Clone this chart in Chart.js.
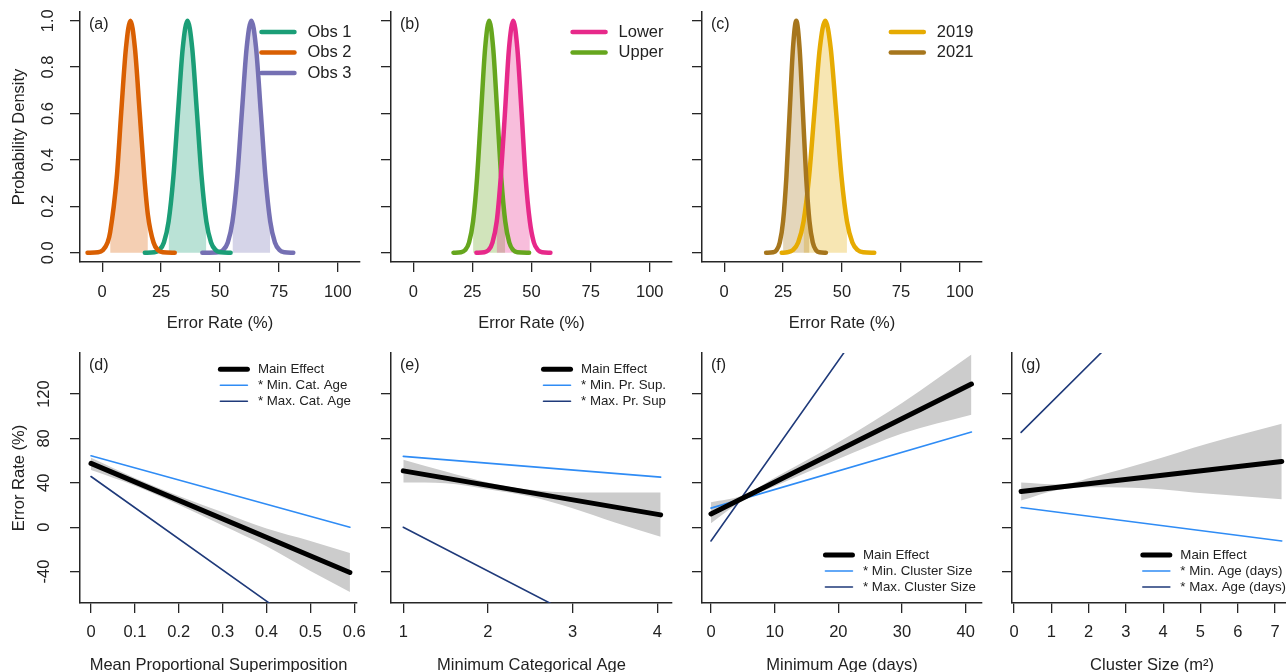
<!DOCTYPE html>
<html>
<head>
<meta charset="utf-8">
<script src="https://cdn.jsdelivr.net/npm/chart.js@4.4.1/dist/chart.umd.min.js"></script>
<style>
  html, body { margin: 0; padding: 0; background: #fff; width: 1286px; height: 672px; overflow: hidden; }
  canvas { position: absolute; }
</style>
</head>
<body>
<canvas id="pa"></canvas>
<canvas id="pb"></canvas>
<canvas id="pc"></canvas>
<canvas id="pd"></canvas>
<canvas id="pe"></canvas>
<canvas id="pf"></canvas>
<canvas id="pg"></canvas>
<script>
// --- DATA: top row, posterior densities ---
const topXTicks = [0, 25, 50, 75, 100];
const topYTicks = [0, 0.2, 0.4, 0.6, 0.8, 1.0];

const obs1X = [18.1, 22.2, 24.2, 26.2, 28.2, 30.2, 32.2, 34.2, 36.2, 38.2, 40.2, 42.2, 44.2, 46.2, 48.2, 50.2, 54.5];
const obs1Y = [0, 0.002, 0.011, 0.044, 0.135, 0.325, 0.607, 0.882, 1, 0.882, 0.607, 0.325, 0.135, 0.044, 0.011, 0.002, 0];
const obs1CI = [28.2, 44.2];
const obs2X = [-6.2, -1.7, 0.3, 2.3, 3.4, 6.2, 8.1, 10.1, 12, 13.9, 15.9, 17.9, 19.4, 21.8, 23.7, 25.7, 30.8];
const obs2Y = [0, 0.002, 0.011, 0.044, 0.089, 0.325, 0.607, 0.882, 1, 0.882, 0.607, 0.325, 0.164, 0.044, 0.011, 0.002, 0];
const obs2CI = [3.4, 19.4];
const obs3X = [42.5, 49.3, 51.3, 53.3, 55.3, 57.3, 59.3, 61.3, 63.3, 65.3, 67.3, 69.3, 71.3, 73.3, 75.3, 77.3, 81.1];
const obs3Y = [0, 0.002, 0.011, 0.044, 0.135, 0.325, 0.607, 0.882, 1, 0.882, 0.607, 0.325, 0.135, 0.044, 0.011, 0.002, 0];
const obs3CI = [55.3, 71.3];

const lowerX = [26.7, 30.1, 31.8, 33.5, 35.3, 37.0, 38.8, 40.5, 42.3, 44.0, 45.8, 47.5, 49.3, 51.0, 52.8, 54.5, 58.0];
const lowerY = [0, 0.002, 0.011, 0.044, 0.135, 0.325, 0.607, 0.882, 1, 0.882, 0.607, 0.325, 0.135, 0.044, 0.011, 0.002, 0];
const lowerCI = [35.3, 49.3];
const upperX = [17.0, 20.2, 21.9, 23.6, 25.3, 27.0, 28.7, 30.4, 32.1, 33.8, 35.5, 37.2, 38.9, 40.6, 42.3, 44.0, 49.0];
const upperY = [0, 0.002, 0.011, 0.044, 0.135, 0.325, 0.607, 0.882, 1, 0.882, 0.607, 0.325, 0.135, 0.044, 0.011, 0.002, 0];
const upperCI = [25.3, 38.9];

const y2019X = [24.4, 26.8, 29.1, 31.4, 33.7, 36.0, 38.3, 40.6, 42.9, 45.2, 47.5, 49.8, 52.1, 54.4, 56.7, 59.0, 63.7];
const y2019Y = [0, 0.002, 0.011, 0.044, 0.135, 0.325, 0.607, 0.882, 1, 0.882, 0.607, 0.325, 0.135, 0.044, 0.011, 0.002, 0];
const y2019CI = [33.7, 52.1];
const y2021X = [17.8, 20.8, 22.2, 23.6, 25.0, 26.4, 27.8, 29.2, 30.6, 32.0, 33.4, 34.8, 36.2, 37.6, 39.0, 40.4, 43.2];
const y2021Y = [0, 0.002, 0.011, 0.044, 0.135, 0.325, 0.607, 0.882, 1, 0.882, 0.607, 0.325, 0.135, 0.044, 0.011, 0.002, 0];
const y2021CI = [25.0, 36.2];

// --- DATA: bottom row, model effects ---
const botYTicks = [-40, 0, 40, 80, 120];

const dXTicks = [0, 0.1, 0.2, 0.3, 0.4, 0.5, 0.6];
const dLineX = [0, 0.59];
const dMain = [57.5, -40.8];
const dMinCat = [64.4, 0.0];
const dMaxCat = [45.7, -120.0];
const dBandX = [0, 0.1, 0.2, 0.3, 0.4, 0.5, 0.59];
const dBandHi = [62.5, 44.3, 28.2, 13.5, -1.2, -12.4, -23.3];
const dBandLo = [51.5, 37.3, 20.2, 1.5, -17.2, -39.4, -58.3];

const eXTicks = [1, 2, 3, 4];
const eLineX = [1, 4.04];
const eMain = [50.8, 11.1];
const eMinSup = [63.8, 45.1];
const eMaxSup = [0.0, -120.0];
const eBandX = [1.0, 1.5, 2.0, 2.5, 3.0, 3.5, 4.04];
const eBandHi = [60.8, 50.2, 40.3, 33.7, 31.3, 31.3, 31.3];
const eBandLo = [40.3, 39.7, 34.3, 27.6, 17.1, 4.2, -8.5];

const fXTicks = [0, 10, 20, 30, 40];
const fLineX = [0, 40.9];
const fMain = [12.0, 129.0];
const fMinClus = [17.2, 85.8];
const fMaxClus = [-12.4, 320.0];
const fBandX = [0, 5, 10, 20, 30, 40.9];
const fBandHi = [22.5, 28.5, 44.5, 76.5, 112.0, 155.6];
const fBandLo = [3.5, 24.3, 37.0, 61.5, 84.5, 101.4];

const gXTicks = [0, 1, 2, 3, 4, 5, 6, 7];
const gLineX = [0.19, 7.18];
const gMain = [32.2, 59.3];
const gMinAge = [17.7, -12.4];
const gMaxAge = [85.5, 319.0];
const gBandX = [0.19, 1.2, 2.2, 3.5, 5.25, 7.18];
const gBandHi = [40.3, 38.5, 46.0, 58.0, 76.0, 93.3];
const gBandLo = [24.0, 33.7, 36.0, 35.2, 30.1, 25.3];

// --- STYLE ---
const FONT = "'Liberation Sans', Arial, Helvetica, sans-serif";
const INK = '#222222';
const AXIS = '#262626';
const BAND = '#cccccc';
const MIN_BLUE = '#2f8cf5';
const MAX_NAVY = '#1f3a7a';

Chart.defaults.font.family = FONT;
Chart.defaults.font.size = 16.5;
Chart.defaults.color = INK;
Chart.defaults.animation = false;

const pts = (xs, ys) => xs.map((x, i) => ({ x: x, y: ys[i] }));

function alpha(hex, a) {
  const n = parseInt(hex.slice(1), 16);
  return `rgba(${(n >> 16) & 255}, ${(n >> 8) & 255}, ${n & 255}, ${a})`;
}

function curve(label, xs, ys, color) {
  return { label, data: pts(xs, ys), showLine: true, borderColor: color, borderWidth: 4.5,
    pointRadius: 0, fill: false, cubicInterpolationMode: 'monotone',
    borderCapStyle: 'round', borderJoinStyle: 'round' };
}

function shade(xs, ys, ci, color) {
  const d = pts(xs, ys).filter(p => p.x >= ci[0] && p.x <= ci[1]);
  return { label: '', data: d, showLine: true, borderWidth: 0, borderColor: 'rgba(0,0,0,0)',
    pointRadius: 0, fill: 'origin', backgroundColor: alpha(color, 0.3), cubicInterpolationMode: 'monotone' };
}

function trend(label, xs, ys, color, w) {
  return { label, data: pts(xs, ys), showLine: true, borderColor: color, borderWidth: w,
    pointRadius: 0, fill: false, borderCapStyle: 'round' };
}

function band(xs, hi, lo) {
  return [
    { label: '', data: pts(xs, hi), showLine: true, borderWidth: 0, borderColor: 'rgba(0,0,0,0)',
      pointRadius: 0, fill: '+1', backgroundColor: BAND, cubicInterpolationMode: 'monotone' },
    { label: '', data: pts(xs, lo), showLine: true, borderWidth: 0, borderColor: 'rgba(0,0,0,0)',
      pointRadius: 0, fill: false, cubicInterpolationMode: 'monotone' }
  ];
}

// panel tag + R-like legend drawn inside the plot area
const panelDecor = {
  id: 'panelDecor',
  afterDatasetsDraw(chart, args, o) {
    const { ctx, chartArea: a } = chart;
    ctx.save();
    ctx.fillStyle = INK;
    ctx.textBaseline = 'middle';
    ctx.textAlign = 'left';
    ctx.font = `16px ${FONT}`;
    ctx.fillText(o.tag, a.left + 9, a.top + 13);

    const lg = o.legend;
    ctx.font = `${lg.size}px ${FONT}`;
    const sets = lg.items.map(i => chart.data.datasets[i]);
    const tw = Math.max(...sets.map(d => ctx.measureText(d.label).width));
    const tx = a.right - lg.right - tw;
    let y = lg.bottom != null ? a.bottom - lg.bottom - (sets.length - 1) * lg.row : a.top + lg.top;
    sets.forEach(d => {
      ctx.strokeStyle = d.borderColor;
      ctx.lineWidth = d.borderWidth;
      ctx.lineCap = 'round';
      ctx.beginPath();
      ctx.moveTo(tx - lg.gap - lg.len, y);
      ctx.lineTo(tx - lg.gap, y);
      ctx.stroke();
      ctx.fillText(d.label, tx, y);
      y += lg.row;
    });
    ctx.restore();
  }
};

function panel(id, left, top, plotW, p) {
  const cv = document.getElementById(id);
  cv.width = 80 + plotW + 10;
  cv.height = 337;
  cv.style.left = (left - 80) + 'px';
  cv.style.top = (top - 12) + 'px';

  const grid = { display: true, drawOnChartArea: false, drawTicks: true, tickLength: 10, color: AXIS, lineWidth: 1.3 };
  const border = { display: true, color: AXIS, width: 1.5 };

  new Chart(cv, {
    type: 'scatter',
    data: { datasets: p.datasets },
    options: {
      responsive: false,
      events: [],
      layout: { padding: { top: 12, right: 10, bottom: 0, left: 0 } },
      scales: {
        x: {
          type: 'linear', min: p.xRange[0], max: p.xRange[1],
          afterBuildTicks: s => { s.ticks = p.xTicks.map(v => ({ value: v })); },
          afterFit: s => { s.height = 75; s.paddingLeft = 0; s.paddingRight = 0; },
          grid, border,
          ticks: { autoSkip: false, maxRotation: 0, padding: p.xPad, callback: v => String(v) },
          title: { display: true, text: p.xTitle, padding: { top: 0, bottom: p.xTitlePad } }
        },
        y: {
          type: 'linear', min: p.yRange[0], max: p.yRange[1],
          afterBuildTicks: s => { s.ticks = p.yTicks.map(v => ({ value: v })); },
          afterFit: s => { s.width = 80; s.paddingTop = 0; s.paddingBottom = 0; },
          grid, border,
          ticks: { autoSkip: false, minRotation: 90, maxRotation: 90, crossAlign: 'center',
            padding: p.yPad, callback: v => (p.yTitle ? p.yFmt(v) : '') },
          title: { display: !!p.yTitle, text: p.yTitle || '', padding: { top: 10, bottom: 0 } }
        }
      },
      plugins: {
        legend: { display: false },
        tooltip: { enabled: false },
        panelDecor: { tag: p.tag, legend: p.legend }
      }
    },
    plugins: [panelDecor]
  });
}

const topLegend = { size: 16.5, right: 8.5, top: 20, row: 20.5, len: 33, gap: 13 };
const botLegendTop = { size: 13.3, right: 6, top: 16.3, row: 16, len: 27, gap: 10.5 };
const botLegendBottom = { size: 13.3, right: 6, bottom: 16, row: 16, len: 27, gap: 10.5 };

const topCommon = { xRange: [-9.4, 109.4], xTicks: topXTicks, yRange: [-0.04, 1.0375], yTicks: topYTicks,
  xTitle: 'Error Rate (%)', xPad: 11, xTitlePad: 4, yPad: 10, yFmt: v => v.toFixed(1) };
const botCommon = { yRange: [-68.3, 157], yTicks: botYTicks, xPad: 10, xTitlePad: 3, yPad: 12, yFmt: v => String(v) };

// (a)
panel('pa', 80, 12, 280, Object.assign({}, topCommon, {
  tag: '(a)', yTitle: 'Probability Density', legend: Object.assign({ items: [1, 0, 2] }, topLegend),
  datasets: [
    curve('Obs 2', obs2X, obs2Y, '#d95f02'),
    curve('Obs 1', obs1X, obs1Y, '#1b9e77'),
    curve('Obs 3', obs3X, obs3Y, '#7570b3'),
    shade(obs1X, obs1Y, obs1CI, '#1b9e77'),
    shade(obs2X, obs2Y, obs2CI, '#d95f02'),
    shade(obs3X, obs3Y, obs3CI, '#7570b3')
  ]
}));

// (b)
panel('pb', 391, 12, 281, Object.assign({}, topCommon, {
  tag: '(b)', legend: Object.assign({ items: [0, 1] }, topLegend),
  datasets: [
    curve('Lower', lowerX, lowerY, '#e7298a'),
    curve('Upper', upperX, upperY, '#66a61e'),
    shade(lowerX, lowerY, lowerCI, '#e7298a'),
    shade(upperX, upperY, upperCI, '#66a61e')
  ]
}));

// (c)
panel('pc', 702, 12, 280, Object.assign({}, topCommon, {
  tag: '(c)', legend: Object.assign({ items: [1, 0] }, topLegend),
  datasets: [
    curve('2021', y2021X, y2021Y, '#a6761d'),
    curve('2019', y2019X, y2019Y, '#e6ab02'),
    shade(y2021X, y2021Y, y2021CI, '#a6761d'),
    shade(y2019X, y2019Y, y2019CI, '#e6ab02')
  ]
}));

// (d)
panel('pd', 80, 353, 277, Object.assign({}, botCommon, {
  tag: '(d)', yTitle: 'Error Rate (%)', xTitle: 'Mean Proportional Superimposition',
  xRange: [-0.0251, 0.6062], xTicks: dXTicks, legend: Object.assign({ items: [0, 1, 2] }, botLegendTop),
  datasets: [
    trend('Main Effect', dLineX, dMain, '#000000', 5),
    trend('* Min. Cat. Age', dLineX, dMinCat, MIN_BLUE, 1.6),
    trend('* Max. Cat. Age', dLineX, dMaxCat, MAX_NAVY, 1.6),
    ...band(dBandX, dBandHi, dBandLo)
  ]
}));

// (e)
panel('pe', 391, 353, 281, Object.assign({}, botCommon, {
  tag: '(e)', xTitle: 'Minimum Categorical Age',
  xRange: [0.855, 4.174], xTicks: eXTicks, legend: Object.assign({ items: [0, 1, 2] }, botLegendTop),
  datasets: [
    trend('Main Effect', eLineX, eMain, '#000000', 5),
    trend('* Min. Pr. Sup.', eLineX, eMinSup, MIN_BLUE, 1.6),
    trend('* Max. Pr. Sup', eLineX, eMaxSup, MAX_NAVY, 1.6),
    ...band(eBandX, eBandHi, eBandLo)
  ]
}));

// (f)
panel('pf', 702, 353, 280, Object.assign({}, botCommon, {
  tag: '(f)', xTitle: 'Minimum Age (days)',
  xRange: [-1.41, 42.56], xTicks: fXTicks, legend: Object.assign({ items: [0, 1, 2] }, botLegendBottom),
  datasets: [
    trend('Main Effect', fLineX, fMain, '#000000', 5),
    trend('* Min. Cluster Size', fLineX, fMinClus, MIN_BLUE, 1.6),
    trend('* Max. Cluster Size', fLineX, fMaxClus, MAX_NAVY, 1.6),
    ...band(fBandX, fBandHi, fBandLo)
  ]
}));

// (g)
panel('pg', 1012, 353, 280, Object.assign({}, botCommon, {
  tag: '(g)', xTitle: 'Cluster Size (m\u00B2)',
  xRange: [-0.054, 7.455], xTicks: gXTicks, legend: Object.assign({ items: [0, 1, 2] }, botLegendBottom),
  datasets: [
    trend('Main Effect', gLineX, gMain, '#000000', 5),
    trend('* Min. Age (days)', gLineX, gMinAge, MIN_BLUE, 1.6),
    trend('* Max. Age (days)', gLineX, gMaxAge, MAX_NAVY, 1.6),
    ...band(gBandX, gBandHi, gBandLo)
  ]
}));
</script>
</body>
</html>
